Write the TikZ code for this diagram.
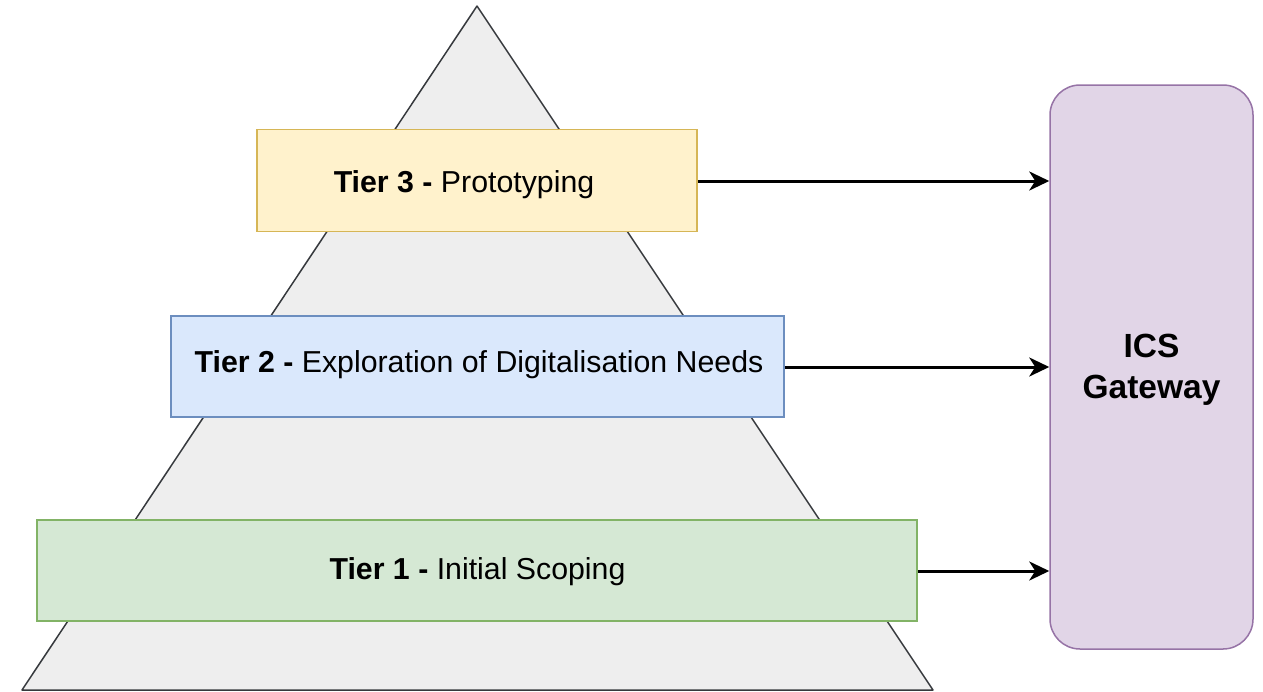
\documentclass[tikz,border=0pt]{standalone}
\usepackage{fontspec}
\setmainfont{Liberation Sans}
\usetikzlibrary{arrows.meta}
\definecolor{y3fill}{HTML}{FFF2CC}\definecolor{y3line}{HTML}{D6B656}
\definecolor{b2fill}{HTML}{DAE8FC}\definecolor{b2line}{HTML}{6C8EBF}
\definecolor{g1fill}{HTML}{D5E8D4}\definecolor{g1line}{HTML}{82B366}
\definecolor{pfill}{HTML}{E1D5E7}\definecolor{pline}{HTML}{9673A6}
\definecolor{trifill}{HTML}{EEEEEE}\definecolor{triline}{HTML}{36393D}
\tikzset{
  tierbox/.style={rectangle, line width=1.5pt, inner sep=0pt},
  tiertext/.style={inner sep=0pt, font=\fontsize{30.3}{36}\selectfont,
    text height=21.6pt, text depth=0pt},
  gatebox/.style={rectangle, rounded corners=30pt, line width=1.5pt, draw=pline, fill=pfill,
    minimum width=203pt, minimum height=564pt},
  gatetext/.style={inner sep=0pt, align=center,
    font=\fontsize{33.5}{41}\selectfont\bfseries},
  flow/.style={-{Stealth[length=20pt,width=19pt,inset=6pt]}, line width=3pt, black}
}
\begin{document}
\begin{tikzpicture}[x=1pt,y=1pt]
\useasboundingbox (0,0) rectangle (1263,-691);
% pyramid
\coordinate (apex) at (477,-6);
\coordinate (bl) at (22,-690);
\coordinate (br) at (933,-690);
\path[fill=trifill, draw=triline, line width=1.5pt, line join=round] (apex) -- (br) -- (bl) -- cycle;
% tiers
\node[tierbox, draw=y3line, fill=y3fill, minimum width=440pt, minimum height=102pt] (t3) at (477,-180.5) {};
\node[tierbox, draw=b2line, fill=b2fill, minimum width=613pt, minimum height=101pt] (t2) at (477.5,-366.5) {};
\node[tierbox, draw=g1line, fill=g1fill, minimum width=880pt, minimum height=101pt] (t1) at (477,-570.5) {};
\node[tiertext] (t3l) at (464,-182) {\textbf{Tier 3 -} Prototyping};
\node[tiertext] (t2l) at (479,-361.5) {\textbf{Tier 2 -} Exploration of Digitalisation Needs};
\node[tiertext] (t1l) at (477.5,-568.5) {\textbf{Tier 1 -} Initial Scoping};
% gateway
\node[gatebox] (gw) at (1151.5,-367) {};
\node[gatetext] (gwl) at (1151.5,-370) {ICS\\Gateway};
% connectors
\draw[flow] (t3.east |- 0,-181) -- (gw.west |- 0,-181);
\draw[flow] (t2.east |- 0,-367) -- (gw.west |- 0,-367);
\draw[flow] (t1.east |- 0,-571) -- (gw.west |- 0,-571);
\end{tikzpicture}
\end{document}
